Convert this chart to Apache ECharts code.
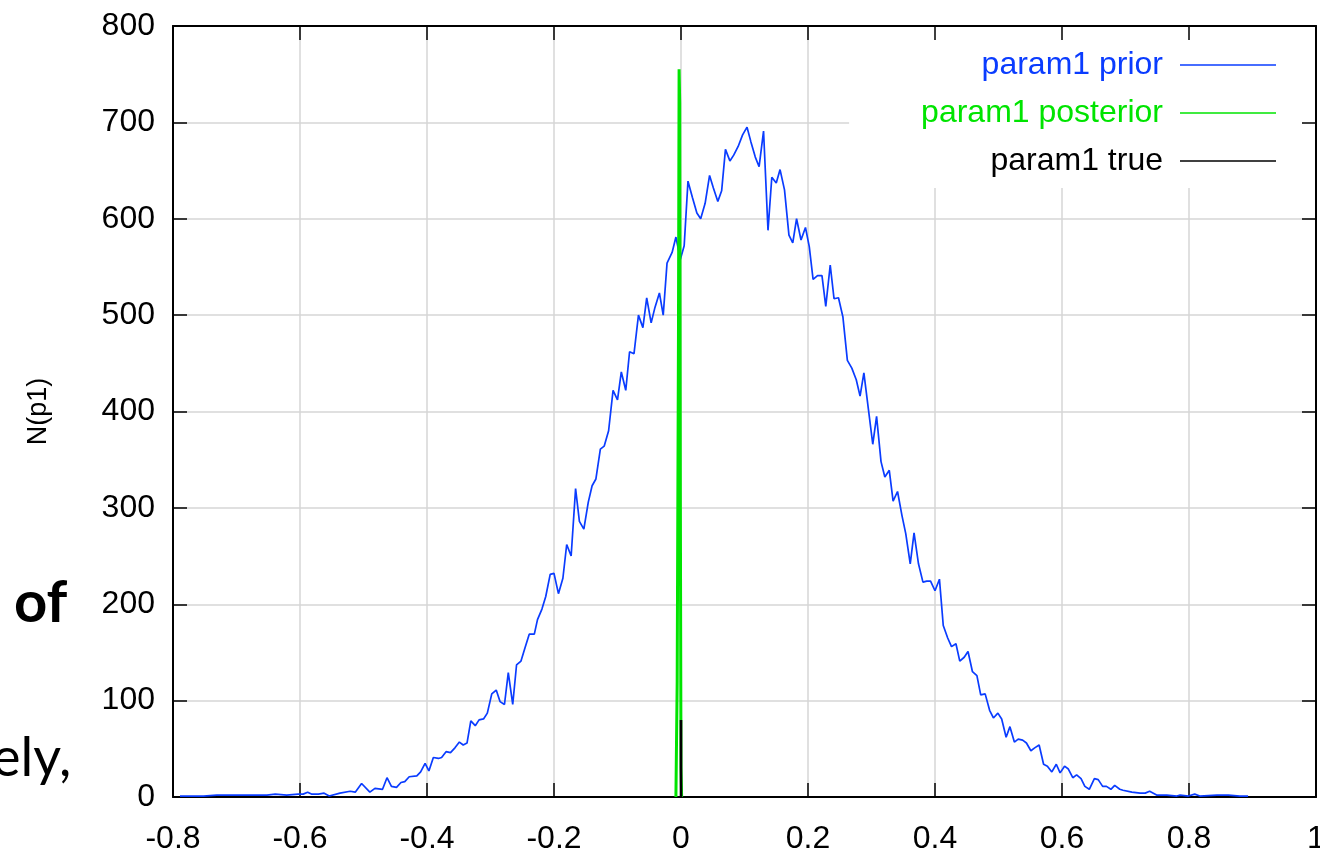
<!DOCTYPE html>
<html>
<head>
<meta charset="utf-8">
<script src="https://cdn.jsdelivr.net/npm/echarts@6/dist/echarts.min.js"></script>
<style>
  html, body { margin: 0; padding: 0; background: #fff; }
  #chart { width: 1320px; height: 860px; }
</style>
</head>
<body>
<div id="chart"></div>
<script>
// series names (legend order)
const seriesNames = ['param1 prior', 'param1 posterior', 'param1 true'];

// prior histogram, [p1, count]
const priorCurve = [
  [-0.789,1],[-0.752,1],[-0.731,2],[-0.713,2],[-0.694,2],[-0.668,2],[-0.652,2],[-0.639,3],[-0.621,2],[-0.603,3],
  [-0.595,3],[-0.588,5],[-0.582,3],[-0.571,3],[-0.562,4],[-0.554,1],[-0.537,4],[-0.521,6],[-0.513,5],[-0.503,14],
  [-0.490,5],[-0.482,9],[-0.470,8],[-0.463,20],[-0.456,11],[-0.448,10],[-0.441,15],[-0.435,16],[-0.428,21],[-0.416,22],
  [-0.410,26],[-0.403,35],[-0.397,27],[-0.390,41],[-0.382,40],[-0.377,41],[-0.370,47],[-0.363,46],[-0.356,51],[-0.349,57],
  [-0.343,54],[-0.337,56],[-0.331,79],[-0.324,74],[-0.318,80],[-0.311,81],[-0.305,87],[-0.298,107],[-0.291,111],[-0.285,99],
  [-0.278,96],[-0.272,129],[-0.265,96],[-0.259,137],[-0.252,141],[-0.246,154],[-0.239,169],[-0.231,169],[-0.226,184],[-0.219,195],
  [-0.213,208],[-0.206,231],[-0.200,232],[-0.193,211],[-0.186,227],[-0.180,262],[-0.173,250],[-0.166,320],[-0.160,286],[-0.153,278],
  [-0.146,306],[-0.140,323],[-0.134,330],[-0.127,361],[-0.121,364],[-0.114,380],[-0.107,422],[-0.100,412],[-0.094,441],[-0.087,422],
  [-0.081,462],[-0.074,460],[-0.067,500],[-0.060,487],[-0.054,518],[-0.047,492],[-0.041,508],[-0.034,523],[-0.028,500],[-0.022,554],
  [-0.014,565],[-0.008,581],[-0.001,558],[0.005,572],[0.011,639],[0.018,622],[0.025,606],[0.031,600],[0.038,616],[0.045,645],
  [0.051,632],[0.058,618],[0.064,629],[0.070,672],[0.077,660],[0.083,666],[0.090,675],[0.097,687],[0.104,695],[0.110,680],
  [0.117,664],[0.123,654],[0.130,691],[0.137,588],[0.143,643],[0.150,637],[0.156,651],[0.163,630],[0.170,583],[0.176,575],
  [0.182,600],[0.189,578],[0.196,591],[0.202,571],[0.208,537],[0.215,541],[0.222,541],[0.228,509],[0.235,552],[0.241,517],
  [0.248,518],[0.255,498],[0.262,453],[0.269,445],[0.276,433],[0.282,416],[0.288,440],[0.295,403],[0.302,366],[0.308,395],
  [0.315,348],[0.321,332],[0.328,339],[0.334,307],[0.341,317],[0.348,292],[0.354,273],[0.361,242],[0.367,274],[0.374,242],
  [0.381,223],[0.387,224],[0.393,224],[0.400,214],[0.407,226],[0.413,178],[0.420,165],[0.426,156],[0.433,159],[0.439,141],
  [0.446,145],[0.452,151],[0.459,130],[0.466,126],[0.472,106],[0.479,107],[0.486,90],[0.492,82],[0.499,87],[0.505,81],
  [0.512,62],[0.518,73],[0.525,57],[0.531,60],[0.538,59],[0.544,56],[0.551,48],[0.557,51],[0.564,54],[0.571,34],
  [0.577,32],[0.584,26],[0.591,34],[0.597,25],[0.604,32],[0.610,29],[0.617,20],[0.623,23],[0.630,19],[0.636,11],
  [0.643,8],[0.651,19],[0.657,18],[0.664,11],[0.670,11],[0.677,8],[0.683,12],[0.691,8],[0.696,7],[0.710,5],
  [0.723,4],[0.731,4],[0.738,6],[0.749,2],[0.765,2],[0.781,1],[0.786,2],[0.799,1],[0.809,3],[0.817,1],
  [0.844,2],[0.862,2],[0.880,1],[0.893,1]
];

// posterior: very narrow spike just left of 0
const posteriorCurve = [
  [-0.008,0],[-0.006,120],[-0.004,480],[-0.003,755],[-0.002,720],[-0.001,300],[0,30],[0.001,0]
];

// true value
const trueCurve = [[0,0],[0,80]];

const colors = ['#0a3cff', '#00e400', '#000000'];
const font = 'Liberation Sans, Arial, Helvetica, sans-serif';

const chart = echarts.init(document.getElementById('chart'));

const tickStyle = { show: true, inside: true, length: 14, lineStyle: { color: '#000', width: 1.5 } };
const lineAxis = { show: true, onZero: false, lineStyle: { color: '#000', width: 2 } };
const gridLine = { show: true, lineStyle: { color: '#d6d6d6', width: 1.5 } };

function fmt(v) {
    return String(Number(v.toFixed(1)));
}

const options = {
    animation: false,
    backgroundColor: '#fff',
    grid: { left: 173, right: 4, top: 26, bottom: 63, outerBoundsMode: 'none' },
    legend: {
        orient: 'vertical',
        align: 'right',
        right: 4,
        top: 26,
        padding: [21, 40, 9, 72],
        backgroundColor: '#fff',
        icon: 'rect',
        itemWidth: 96,
        itemHeight: 1.5,
        itemGap: 12,
        selectedMode: false,
        textStyle: { fontSize: 32, fontFamily: font, padding: [0, 12, 0, 0], lineHeight: 36 },
        data: seriesNames.map((n, i) => ({ name: n, textStyle: { color: colors[i] } })),
        z: 4
    },
    xAxis: [
        {
            type: 'value', min: -0.8, max: 1, interval: 0.2,
            axisLine: lineAxis, axisTick: tickStyle, splitLine: gridLine,
            axisLabel: { fontSize: 32, color: '#000', fontFamily: font, margin: 26, formatter: fmt }
        },
        {
            type: 'value', position: 'top', min: -0.8, max: 1, interval: 0.2,
            axisLine: lineAxis, axisTick: tickStyle, splitLine: { show: false },
            axisLabel: { show: false }, z: 6
        }
    ],
    yAxis: [
        {
            type: 'value', min: 0, max: 800, interval: 100,
            name: 'N(p1)', nameLocation: 'middle', nameRotate: 90, nameGap: 121,
            nameTextStyle: { fontSize: 27, color: '#000', fontFamily: font },
            axisLine: lineAxis, axisTick: tickStyle, splitLine: gridLine,
            axisLabel: { fontSize: 32, color: '#000', fontFamily: font, margin: 18 }
        },
        {
            type: 'value', position: 'right', min: 0, max: 800, interval: 100,
            axisLine: lineAxis, axisTick: tickStyle, splitLine: { show: false },
            axisLabel: { show: false }, z: 6
        }
    ],
    series: [
        {
            name: seriesNames[0], type: 'line', data: priorCurve, symbol: 'none',
            lineStyle: { color: colors[0], width: 1.7 }, itemStyle: { color: colors[0] }
        },
        {
            name: seriesNames[1], type: 'line', data: posteriorCurve, symbol: 'none',
            lineStyle: { color: colors[1], width: 3 }, itemStyle: { color: colors[1] }
        },
        {
            name: seriesNames[2], type: 'line', data: trueCurve, symbol: 'none',
            lineStyle: { color: colors[2], width: 2.6 }, itemStyle: { color: colors[2] }
        }
    ],
    graphic: [
        {
            type: 'text', left: 14, top: 574,
            style: { text: 'of', font: 'bold 58px Lato, "Open Sans", sans-serif', fill: '#000' }
        },
        {
            type: 'text', left: -8, top: 732,
            style: { text: 'ely,', font: '54px Lato, "Open Sans", sans-serif', fill: '#000' }
        }
    ]
};

chart.setOption(options);
</script>
</body>
</html>
